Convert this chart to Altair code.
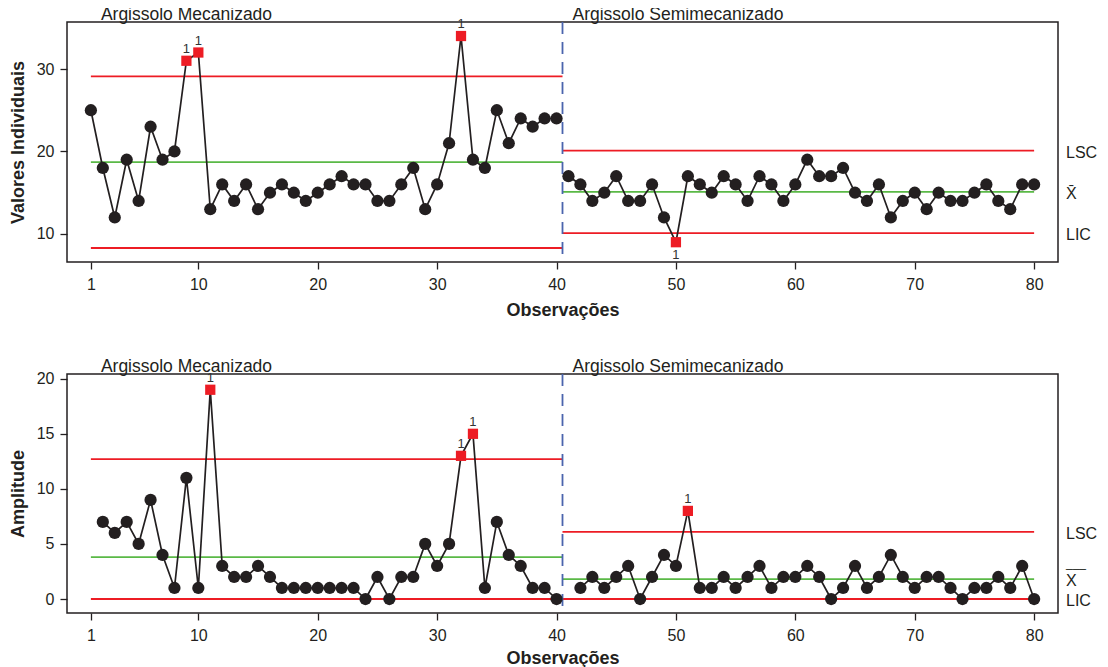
import altair as alt
import pandas as pd

# ---------------- data ----------------
obs_stage1 = list(range(1, 41))
obs_stage2 = list(range(41, 81))
individuais_stage1 = [25, 18, 12, 19, 14, 23, 19, 20, 31, 32, 13, 16, 14, 16, 13, 15, 16, 15, 14, 15,
                      16, 17, 16, 16, 14, 14, 16, 18, 13, 16, 21, 34, 19, 18, 25, 21, 24, 23, 24, 24]
individuais_stage2 = [17, 16, 14, 15, 17, 14, 14, 16, 12, 9, 17, 16, 15, 17, 16, 14, 17, 16, 14, 16,
                      19, 17, 17, 18, 15, 14, 16, 12, 14, 15, 13, 15, 14, 14, 15, 16, 14, 13, 16, 16]
obs_amp_stage1 = list(range(2, 41))
obs_amp_stage2 = list(range(42, 81))
amplitude_stage1 = [7, 6, 7, 5, 9, 4, 1, 11, 1, 19, 3, 2, 2, 3, 2, 1, 1, 1, 1, 1,
                    1, 1, 0, 2, 0, 2, 2, 5, 3, 5, 13, 15, 1, 7, 4, 3, 1, 1, 0]
amplitude_stage2 = [1, 2, 1, 2, 3, 0, 2, 4, 3, 8, 1, 1, 2, 1, 2, 3, 1, 2, 2, 3,
                    2, 0, 1, 3, 1, 2, 4, 2, 1, 2, 2, 1, 0, 1, 1, 2, 1, 3, 0]
flag_individuais = [9, 10, 32, 50]
flag_amplitude = [11, 32, 33, 51]

stage_names = ["Argissolo Mecanizado", "Argissolo Semimecanizado"]
stage_x_start = [1, 40.5]
stage_x_end = [40.5, 80]
divisor = [40.5]
lsc_individuais = [29.1, 20.1]
media_individuais = [18.7, 15.1]
lic_individuais = [8.3, 10.1]
lsc_amplitude = [12.7, 6.1]
media_amplitude = [3.8, 1.8]
lic_amplitude = [0, 0]

x_ticks = [1, 10, 20, 30, 40, 50, 60, 70, 80]
y_ticks_ind = [10, 20, 30]
y_ticks_amp = [0, 5, 10, 15, 20]

RED = "#ed1c24"
GREEN = "#5ab946"
BLUE = "#4a64ad"
BLACK = "#231f20"
FONT = "Liberation Sans"
W, H_TOP, H_BOT = 991, 240, 239


def points_df(obs_lists, val_lists, flags, lic):
    rows = []
    for s, (ol, vl) in enumerate(zip(obs_lists, val_lists)):
        for o, v in zip(ol, vl):
            rows.append({"obs": o, "valor": v, "estagio": stage_names[s],
                         "flag": o in flags, "abaixo": (o in flags) and v < lic[s]})
    return pd.DataFrame(rows)


def limits_df(lsc, med, lic):
    rows = []
    for s in range(2):
        for kind, vals in (("LSC", lsc), ("Media", med), ("LIC", lic)):
            rows.append({"estagio": stage_names[s], "x0": stage_x_start[s],
                         "x1": stage_x_end[s], "valor": vals[s], "tipo": kind})
    return pd.DataFrame(rows)


def panel(df, lim, ydomain, yticks, ytitle, height, right_labels, long_bar, x_title_pad):
    x = alt.X("obs:Q", title="Observações",
              scale=alt.Scale(domain=[-1, 82], nice=False, zero=False),
              axis=alt.Axis(values=x_ticks, grid=False, domain=False, tickSize=7,
                            labelPadding=7, titlePadding=x_title_pad))
    y = alt.Y("valor:Q", title=ytitle,
              scale=alt.Scale(domain=ydomain, nice=False, zero=False),
              axis=alt.Axis(values=yticks, grid=False, domain=False, tickSize=7,
                            labelPadding=6, titlePadding=9))
    base = alt.Chart(df)
    limits = alt.Chart(lim).mark_rule(strokeWidth=1.8).encode(
        x=alt.X("x0:Q", scale=alt.Scale(domain=[-1, 82], nice=False)), x2="x1:Q",
        y=alt.Y("valor:Q"),
        color=alt.Color("tipo:N", scale=alt.Scale(domain=["LSC", "Media", "LIC"],
                                                   range=[RED, GREEN, RED]), legend=None),
    )
    div = alt.Chart(pd.DataFrame({"x": divisor})).mark_rule(
        color=BLUE, strokeWidth=1.8, strokeDash=[12, 8]).encode(x="x:Q")
    line = base.mark_line(color=BLACK, strokeWidth=1.7).encode(x=x, y=y, detail="estagio:N")
    circles = base.transform_filter("!datum.flag").mark_circle(
        size=150, color=BLACK, opacity=1).encode(x="obs:Q", y="valor:Q")
    squares = base.transform_filter("datum.flag").mark_square(
        size=105, color=RED, opacity=1).encode(x="obs:Q", y="valor:Q")
    lab_up = base.transform_filter("datum.flag && !datum.abaixo").mark_text(
        fontSize=13, color="#333333", dy=-12, font=FONT).encode(
        x="obs:Q", y="valor:Q", text=alt.value("1"))
    lab_dn = base.transform_filter("datum.abaixo").mark_text(
        fontSize=13, color="#333333", dy=13, font=FONT).encode(
        x="obs:Q", y="valor:Q", text=alt.value("1"))
    stage_lbl = alt.Chart(pd.DataFrame({"x": stage_x_start, "t": stage_names})).mark_text(
        align="left", baseline="alphabetic", fontSize=17.5, color=BLACK, dx=10, font=FONT
    ).encode(x="x:Q", y=alt.value(-2), text="t:N")
    rl = pd.DataFrame({"valor": right_labels[0], "t": right_labels[1]})
    rlab = alt.Chart(rl).mark_text(align="left", baseline="middle", fontSize=16,
                                   color=BLACK, font=FONT, dy=2).encode(
        x=alt.value(W + 8), y="valor:Q", text="t:N")
    layers = [limits, div, line, circles, squares, lab_up, lab_dn, stage_lbl, rlab]
    if long_bar is not None:
        bar = alt.Chart(pd.DataFrame({"valor": [long_bar]})).mark_text(
            align="left", baseline="alphabetic", fontSize=12, color=BLACK, font=FONT, dy=-12
        ).encode(x=alt.value(W + 8), y="valor:Q", text=alt.value("___"))
        layers.append(bar)
    return alt.layer(*layers).properties(width=W, height=height)


df_ind = points_df([obs_stage1, obs_stage2], [individuais_stage1, individuais_stage2],
                   flag_individuais, lic_individuais)
df_amp = points_df([obs_amp_stage1, obs_amp_stage2], [amplitude_stage1, amplitude_stage2],
                   flag_amplitude, lic_amplitude)

top = panel(df_ind, limits_df(lsc_individuais, media_individuais, lic_individuais),
            [6.6, 35.7], y_ticks_ind, "Valores Individuais", H_TOP,
            ([lsc_individuais[1], media_individuais[1], lic_individuais[1]], ["LSC", "X̄", "LIC"]),
            None, 9)
bot = panel(df_amp, limits_df(lsc_amplitude, media_amplitude, lic_amplitude),
            [-1.27, 20.43], y_ticks_amp, "Amplitude", H_BOT,
            ([lsc_amplitude[1], media_amplitude[1], lic_amplitude[1]], ["LSC", "X", "LIC"]),
            media_amplitude[1], 6)

chart = alt.vconcat(top, bot, spacing=37).properties(
    padding={"left": 0, "top": -3, "right": 0, "bottom": 0}
).configure(font=FONT).configure_view(
    stroke=BLACK, strokeWidth=1.5
).configure_axis(
    labelFont=FONT, titleFont=FONT, labelFontSize=16, titleFontSize=18,
    titleFontWeight="bold", labelColor=BLACK, titleColor=BLACK, tickColor=BLACK,
    tickWidth=1.3
)

chart.save("out.html", embed_options={"renderer": "svg", "actions": False})
